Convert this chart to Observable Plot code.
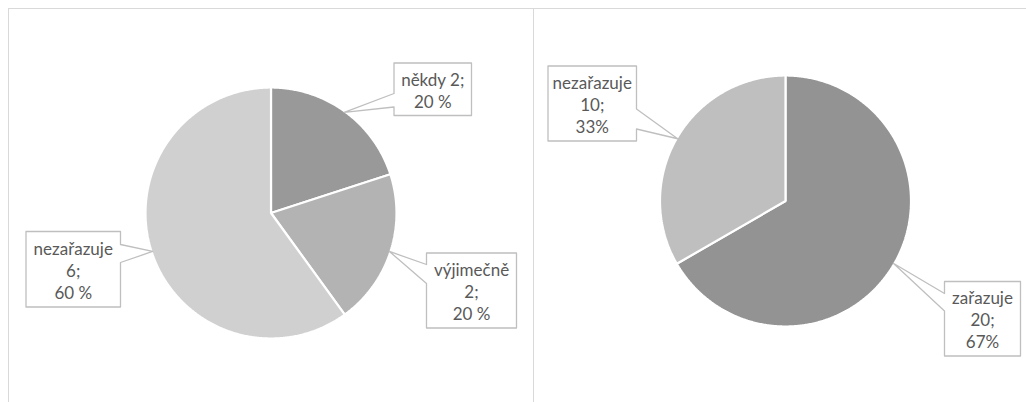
<!DOCTYPE html>
<html>
<head>
<meta charset="utf-8">
<script src="https://cdn.jsdelivr.net/npm/d3@7"></script>
<script src="https://cdn.jsdelivr.net/npm/@observablehq/plot@0.6"></script>
<style>
  html, body { margin: 0; padding: 0; background: #ffffff; width: 1026px; height: 402px; overflow: hidden; }
  .panel { position: absolute; box-sizing: border-box; border-left: 1px solid #d9d9d9; border-top: 1px solid #d9d9d9; }
  #left { left: 8px; top: 8px; width: 525px; height: 394px; }
  #right { left: 533px; top: 8px; width: 493px; height: 394px; }
  .panel svg { display: block; }
</style>
</head>
<body>
<div id="left" class="panel"></div>
<div id="right" class="panel"></div>
<script>
// ---- data ----
const leftCategories = ["někdy", "výjimečně", "nezařazuje"];
const leftValues = [2, 2, 6];
const leftPercents = ["20 %", "20 %", "60 %"];

const rightCategories = ["zařazuje", "nezařazuje"];
const rightValues = [20, 10];
const rightPercents = ["67%", "33%"];

// ---- styles ----
const leftColors = ["#999999", "#b3b3b3", "#d0d0d0"];
const rightColors = ["#939393", "#bfbfbf"];
const textColor = "#595959";
const calloutStroke = "#bfbfbf";

// ---- layout (page pixel coordinates) ----
const leftLayout = {
  origin: [9, 9], size: [524, 393],
  center: [270.5, 212.5], radius: 125.5,
  callouts: [
    {box: [393.5, 62.5, 471, 115], side: "left", base: [93, 106.5], nameOwnLine: false},
    {box: [426, 252.5, 516, 327.5], side: "left", base: [264, 283], nameOwnLine: true},
    {box: [25.5, 231, 120, 306.5], side: "right", base: [244, 262], nameOwnLine: true}
  ]
};
const rightLayout = {
  origin: [534, 9], size: [492, 393],
  center: [785, 200.5], radius: 125.5,
  callouts: [
    {box: [944, 281, 1020, 355.5], side: "left", base: [293, 310.5], nameOwnLine: true},
    {box: [547.5, 65.5, 636, 140.5], side: "right", base: [108.5, 128.5], nameOwnLine: true}
  ]
};

function pieChart(categories, values, percents, colors, layout) {
  const data = categories.map((c, i) => ({name: c, value: values[i], pct: percents[i]}));
  const arcs = d3.pie().sort(null).value(d => d.value)(data);
  const [cx, cy] = layout.center;
  const r = layout.radius;
  // slice polygons
  const slicePts = [];
  arcs.forEach(a => {
    const n = Math.max(2, Math.ceil((a.endAngle - a.startAngle) / (Math.PI / 360)));
    slicePts.push({name: a.data.name, x: cx, y: cy});
    for (let k = 0; k <= n; k++) {
      const t = a.startAngle + (a.endAngle - a.startAngle) * k / n;
      slicePts.push({name: a.data.name, x: cx + r * Math.sin(t), y: cy - r * Math.cos(t)});
    }
  });
  // callouts
  const calloutPts = [];
  const labels = [];
  arcs.forEach((a, i) => {
    const L = layout.callouts[i];
    const m = (a.startAngle + a.endAngle) / 2;
    const tip = [cx + (r - 1) * Math.sin(m), cy - (r - 1) * Math.cos(m)];
    const [x0, y0, x1, y1] = L.box;
    const [ya, yb] = L.base;
    let poly;
    if (L.side === "left") {
      poly = [[x0, y0], [x1, y0], [x1, y1], [x0, y1], [x0, yb], tip, [x0, ya]];
    } else {
      poly = [[x0, y0], [x1, y0], [x1, ya], tip, [x1, yb], [x1, y1], [x0, y1]];
    }
    poly.forEach(p => calloutPts.push({id: a.data.name, x: p[0], y: p[1]}));
    const text = L.nameOwnLine
      ? `${a.data.name}\n${a.data.value};\n${a.data.pct}`
      : `${a.data.name} ${a.data.value};\n${a.data.pct}`;
    labels.push({x: (x0 + x1) / 2, y: (y0 + y1) / 2 + 0.5, text});
  });

  const [ox, oy] = layout.origin;
  const [w, h] = layout.size;
  return Plot.plot({
    width: w, height: h,
    margin: 0,
    style: {background: "transparent", overflow: "visible"},
    x: {domain: [ox, ox + w], range: [0, w], axis: null},
    y: {domain: [oy, oy + h], range: [0, h], axis: null},
    color: {domain: categories, range: colors},
    marks: [
      Plot.line(slicePts, {x: "x", y: "y", z: "name", fill: "name", stroke: "white", strokeWidth: 2.2, strokeLinejoin: "miter", curve: "linear-closed"}),
      Plot.line(calloutPts, {x: "x", y: "y", z: "id", fill: "white", stroke: calloutStroke, strokeWidth: 1.3, curve: "linear-closed"}),
      Plot.text(labels, {x: "x", y: "y", text: "text", fill: textColor, fontSize: 17, fontFamily: "Lato, 'Liberation Sans', sans-serif", textAnchor: "middle", lineAnchor: "middle", lineHeight: 1.29})
    ]
  });
}

document.getElementById("left").appendChild(pieChart(leftCategories, leftValues, leftPercents, leftColors, leftLayout));
document.getElementById("right").appendChild(pieChart(rightCategories, rightValues, rightPercents, rightColors, rightLayout));
</script>
</body>
</html>
